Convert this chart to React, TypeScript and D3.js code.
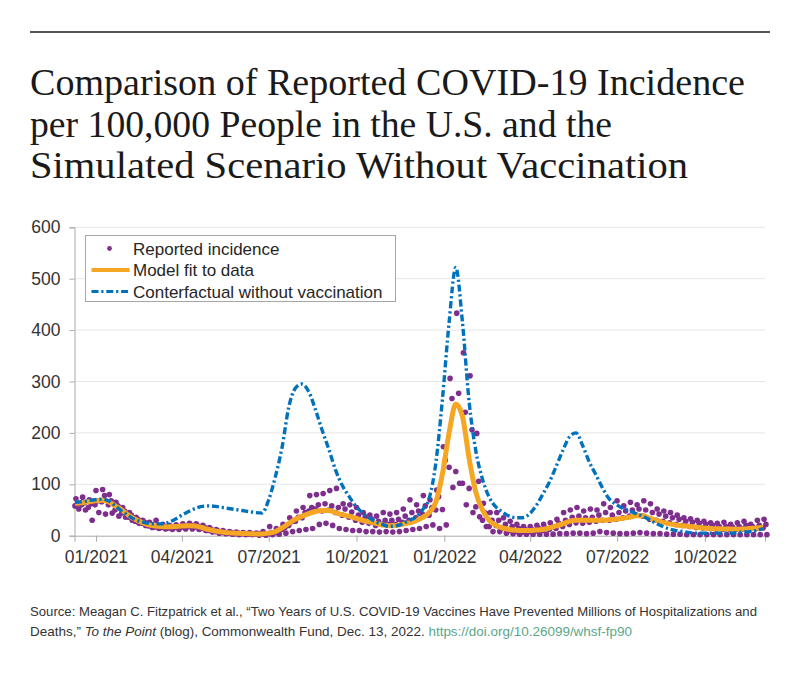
import { useEffect, useRef } from 'react'
import * as d3 from 'd3'

// weekly samples, first week starts 2020-12-10
const firstWeek = new Date(2020, 11, 10)

const counterfactual = [
  65, 66, 68, 70, 71, 68, 58, 48, 39, 31,
  27, 24, 23, 23, 26, 32, 40, 47, 53, 57,
  58, 57, 55, 53, 51, 49, 47, 45, 44, 70,
  115, 172, 250, 287, 295, 280, 245, 205, 168, 128,
  98, 77, 58, 45, 35, 27, 22, 18, 19, 23,
  30, 36, 50, 72, 140, 265, 415, 522, 415, 260,
  165, 110, 75, 56, 46, 38, 35, 35, 42, 58,
  80, 104, 134, 165, 192, 200, 175, 143, 118, 92,
  71, 61, 53, 48, 43, 38, 31, 24, 18, 13,
  10, 8, 6, 5, 5, 5, 5, 5, 5, 6,
  7, 8, 10, 14,
]

const modelFit = [
  63, 64, 66, 68, 69, 66, 58, 50, 40, 32,
  26, 21, 19, 18, 17.5, 18, 19, 19.5, 19, 16,
  12, 9, 7, 5.5, 5, 4.5, 4, 3.5, 3.5, 5,
  8, 15, 24, 32, 38, 43, 47, 49, 49, 45,
  41, 38, 34, 30, 27, 24, 21, 19.5, 20, 22,
  25, 29, 35, 45, 65, 120, 200, 256, 232, 150,
  85, 50, 30, 20, 15, 12, 10.5, 10, 10, 11,
  12, 15, 19, 23, 28, 30, 30, 30, 30, 30,
  31, 32, 34, 36, 39, 39, 34, 30, 26, 23,
  21, 19.5, 18, 16.5, 15, 14, 13.5, 13, 13, 12.5,
  13, 14, 15, 16,
]

// reported incidence, four points per week (catch-up days, two weekdays, weekend)
const reportedHigh = [
  72, 75, 70, 88, 90, 80, 65, 55, 45, 36,
  30, 26, 30, 22, 20, 21, 23, 24, 23, 20,
  16, 12, 10, 8, 7, 6, 6, 5, 8, 18,
  14, 22, 35, 48, 55, 78, 80, 82, 88, 92,
  62, 60, 55, 45, 40, 38, 45, 42, 45, 52,
  70, 60, 78, 70, 89, 173, 306, 433, 356, 311,
  199, 63, 45, 45, 35, 28, 22, 18, 18, 20,
  22, 25, 32, 45, 50, 55, 48, 52, 50, 62,
  55, 68, 58, 65, 60, 68, 62, 52, 48, 45,
  40, 35, 33, 30, 28, 25, 24, 26, 22, 25,
  28, 22, 30, 32,
]

const reportedMidA = [
  62, 64, 62, 68, 78, 68, 58, 48, 40, 32,
  26, 22, 20, 18, 17, 18, 19, 20, 19, 16,
  12, 9, 7, 6, 5, 4.5, 4, 4, 4, 6,
  9, 16, 27, 36, 45, 55, 60, 62, 58, 55,
  52, 46, 40, 36, 32, 28, 30, 30, 32, 38,
  45, 48, 58, 55, 76, 147, 267, 277, 240, 206,
  106, 44, 30, 30, 22, 18, 14, 12, 12, 14,
  15, 18, 24, 30, 36, 38, 35, 36, 40, 45,
  40, 45, 48, 50, 52, 50, 45, 42, 38, 35,
  32, 28, 26, 24, 22, 20, 18, 18, 17, 18,
  20, 18, 20, 22,
]

const reportedMidB = [
  58, 60, 55, 60, 66, 60, 50, 44, 36, 28,
  24, 19, 17, 16, 15, 16, 17, 18, 17, 14,
  10, 8, 6, 5, 4, 4, 3, 3, 3, 4,
  6, 12, 20, 28, 35, 48, 52, 48, 50, 45,
  40, 36, 30, 26, 24, 20, 22, 22, 22, 26,
  30, 35, 42, 40, 50, 51, 133, 125, 102, 92,
  56, 30, 18, 20, 14, 10, 8, 7, 8, 9,
  10, 12, 14, 18, 22, 25, 24, 26, 28, 30,
  30, 32, 35, 38, 40, 38, 32, 30, 28, 25,
  22, 20, 18, 16, 15, 14, 13, 12, 12, 12,
  13, 12, 14, 15,
]

const reportedLow = [
  52, 50, 30, 45, 42, 44, 38, 36, 30, 24,
  20, 16, 14, 13, 12, 12, 13, 13, 12, 10,
  7, 5, 4, 3, 2, 2, 2, 1, 1, 2,
  3, 5, 8, 10, 12, 14, 22, 24, 20, 14,
  12, 10, 10, 8, 8, 7, 8, 7, 8, 10,
  12, 14, 18, 21, 14, 21, 94, 102, 60, 45,
  37, 18, 8, 8, 5, 4, 3, 3, 3, 3,
  3, 3, 4, 4, 5, 5, 4, 5, 8, 6,
  5, 4, 4, 5, 6, 5, 4, 4, 3, 3,
  3, 2, 2, 2, 2, 2, 2, 2, 2, 2,
  2, 2, 2, 2,
]

// day within the week each reported band falls on
const reportedSeries = [
  { values: reportedMidB, dayOffset: 0 },
  { values: reportedHigh, dayOffset: 1 },
  { values: reportedMidA, dayOffset: 3 },
  { values: reportedLow, dayOffset: 4 },
]

const yTicks = [0, 100, 200, 300, 400, 500, 600]
const xTicks = ['2021-01-01', '2021-04-01', '2021-07-01', '2021-10-01', '2022-01-01', '2022-04-01', '2022-07-01', '2022-10-01']

const titleLines = [
  'Comparison of Reported COVID-19 Incidence',
  'per 100,000 People in the U.S. and the',
  'Simulated Scenario Without Vaccination',
]

const PURPLE = '#7E2F8E'
const ORANGE = '#F5A623'
const BLUE = '#0072BD'
const DASH = '7,2.8,2.2,2.8'

const weekDate = (k: number, offset = 0) => d3.timeDay.offset(firstWeek, k * 7 + offset)

export default function App() {
  const svgRef = useRef<SVGSVGElement>(null)

  useEffect(() => {
    if (!svgRef.current) return
    const svg = d3.select(svgRef.current)
    svg.selectAll('*').remove()

    const width = 800
    const height = 673
    svg.attr('width', width).attr('height', height)

    svg.append('rect').attr('width', width).attr('height', height).attr('fill', '#fff')

    // top rule + title
    svg.append('line')
      .attr('x1', 30).attr('x2', 770).attr('y1', 32).attr('y2', 32)
      .attr('stroke', '#555').attr('stroke-width', 2)

    const titleWidths = [715, 582, 658]
    svg.selectAll('.title')
      .data(titleLines)
      .enter()
      .append('text')
      .attr('class', 'title')
      .attr('x', 30)
      .attr('y', (_, i) => 95 + i * 41.5)
      .attr('textLength', (_, i) => titleWidths[i])
      .attr('lengthAdjust', 'spacingAndGlyphs')
      .style('font-family', '"Liberation Serif", serif')
      .style('font-size', '38px')
      .style('fill', '#1a1a1a')
      .text(d => d)

    // Scales
    const left = 74.5
    const right = 765
    const top = 227.3
    const bottom = 535.7

    const x = d3.scaleTime()
      .domain([new Date(2020, 11, 9, 12), new Date(2022, 11, 3)])
      .range([left, right])

    const y = d3.scaleLinear()
      .domain([0, 600])
      .range([bottom, top])

    const g = svg.append('g')

    // Grid
    g.selectAll('.grid')
      .data(yTicks.filter(t => t > 0))
      .enter()
      .append('line')
      .attr('x1', left).attr('x2', right)
      .attr('y1', d => y(d)).attr('y2', d => y(d))
      .attr('stroke', '#e6e6e6').attr('stroke-width', 1)

    // Y Axis
    const yAxis = g.append('g')
      .attr('transform', `translate(${left},0)`)
      .call(d3.axisLeft(y).tickValues(yTicks).tickSize(5).tickPadding(9))
    yAxis.select('.domain').attr('stroke', '#aaa')
    yAxis.selectAll('.tick line').attr('stroke', '#aaa')
    yAxis.selectAll('text')
      .style('font-family', '"Liberation Sans", Arial, sans-serif')
      .style('font-size', '17.5px')
      .style('fill', '#333')

    // X Axis
    const xAxis = g.append('g')
      .attr('transform', `translate(0,${bottom})`)
      .call(d3.axisBottom(x)
        .tickValues(xTicks.map(d => d3.timeParse('%Y-%m-%d')(d) as Date))
        .tickFormat(d => d3.timeFormat('%m/%Y')(d as Date))
        .tickSize(6)
        .tickPadding(9))
    xAxis.select('.domain').attr('stroke', '#aaa')
    xAxis.selectAll('.tick line').attr('stroke', '#aaa')
    xAxis.selectAll('text')
      .style('font-family', '"Liberation Sans", Arial, sans-serif')
      .style('font-size', '17.5px')
      .style('fill', '#333')

    // Reported dots
    reportedSeries.forEach(s => {
      g.append('g')
        .selectAll('circle')
        .data(s.values)
        .enter()
        .append('circle')
        .attr('cx', (_, k) => x(weekDate(k, s.dayOffset)))
        .attr('cy', d => y(d))
        .attr('r', 2.8)
        .attr('fill', PURPLE)
    })

    const line = d3.line<number>()
      .x((_, k) => x(weekDate(k)))
      .y(d => y(d))
      .curve(d3.curveMonotoneX)

    g.append('path')
      .datum(modelFit)
      .attr('d', line)
      .attr('fill', 'none')
      .attr('stroke', ORANGE)
      .attr('stroke-width', 5)
      .attr('stroke-linejoin', 'round')

    g.append('path')
      .datum(counterfactual)
      .attr('d', line)
      .attr('fill', 'none')
      .attr('stroke', BLUE)
      .attr('stroke-width', 3.4)
      .attr('stroke-dasharray', DASH)

    // Legend
    const lg = g.append('g').attr('transform', 'translate(85.5,235.5)')
    lg.append('rect')
      .attr('width', 310).attr('height', 66)
      .attr('fill', '#fff').attr('stroke', '#a6a6a6').attr('stroke-width', 1)

    const legendItems = [
      { label: 'Reported incidence', kind: 'dot' },
      { label: 'Model fit to data', kind: 'model' },
      { label: 'Conterfactual without vaccination', kind: 'cf' },
    ]
    legendItems.forEach((item, i) => {
      const cy = 13 + i * 21.5
      if (item.kind === 'dot') {
        lg.append('circle').attr('cx', 24).attr('cy', cy).attr('r', 2.4).attr('fill', PURPLE)
      } else if (item.kind === 'model') {
        lg.append('line').attr('x1', 6).attr('x2', 44).attr('y1', cy).attr('y2', cy)
          .attr('stroke', ORANGE).attr('stroke-width', 4)
      } else {
        lg.append('line').attr('x1', 6).attr('x2', 44).attr('y1', cy).attr('y2', cy)
          .attr('stroke', BLUE).attr('stroke-width', 3).attr('stroke-dasharray', DASH)
      }
      lg.append('text')
        .attr('x', 47.5)
        .attr('y', cy + 6)
        .style('font-family', '"Liberation Sans", Arial, sans-serif')
        .style('font-size', '17px')
        .style('fill', '#262626')
        .text(item.label)
    })

    // Source note
    const note = svg.append('g')
      .style('font-family', '"Liberation Sans", Arial, sans-serif')
      .style('font-size', '13.5px')
      .style('fill', '#333')
    note.append('text')
      .attr('x', 30).attr('y', 616)
      .attr('textLength', 727).attr('lengthAdjust', 'spacingAndGlyphs')
      .text('Source: Meagan C. Fitzpatrick et al., \u201CTwo Years of U.S. COVID-19 Vaccines Have Prevented Millions of Hospitalizations and')
    const l2 = note.append('text')
      .attr('x', 30).attr('y', 636)
      .attr('textLength', 602).attr('lengthAdjust', 'spacingAndGlyphs')
    l2.append('tspan').text('Deaths,\u201D ')
    l2.append('tspan').style('font-style', 'italic').text('To the Point')
    l2.append('tspan').text(' (blog), Commonwealth Fund, Dec. 13, 2022. ')
    l2.append('tspan').style('fill', '#5BA68A').text('https://doi.org/10.26099/whsf-fp90')
  }, [])

  return (
    <svg ref={svgRef} style={{ position: 'absolute', left: 0, top: 0, display: 'block' }} />
  )
}
